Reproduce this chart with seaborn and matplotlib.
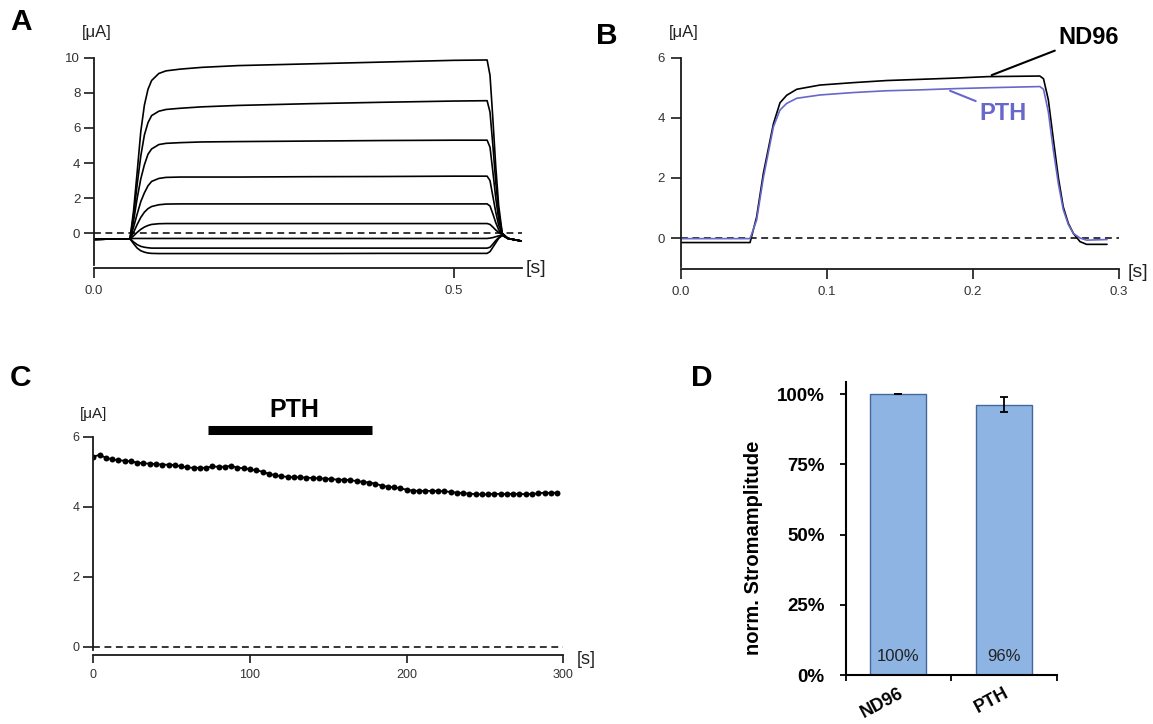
import matplotlib
matplotlib.use("Agg")
import matplotlib.pyplot as plt
import seaborn as sns

# Panel A: current traces of 9 voltage steps (time in s, current in uA)
a_time = [0.0, 0.05, 0.055, 0.06, 0.065, 0.07, 0.075, 0.08, 0.09, 0.1, 0.12, 0.15,
          0.2, 0.3, 0.4, 0.5, 0.546, 0.55, 0.554, 0.558, 0.562, 0.567, 0.575, 0.594]
a_step_1 = [-0.35, -0.32, 1.3, 3.5, 5.8, 7.3, 8.2, 8.7, 9.1, 9.25, 9.35, 9.45,
            9.55, 9.65, 9.75, 9.85, 9.87, 9.0, 6.5, 3.8, 1.6, 0.0, -0.3, -0.45]
a_step_2 = [-0.35, -0.32, 1.0, 2.8, 4.4, 5.6, 6.3, 6.7, 6.95, 7.05, 7.12, 7.2,
            7.28, 7.38, 7.46, 7.53, 7.55, 6.9, 5.0, 2.9, 1.2, 0.0, -0.3, -0.45]
a_step_3 = [-0.35, -0.32, 0.7, 2.0, 3.1, 3.9, 4.5, 4.8, 5.05, 5.12, 5.16, 5.2,
            5.22, 5.25, 5.28, 5.3, 5.3, 4.9, 3.5, 2.0, 0.8, -0.05, -0.3, -0.45]
a_step_4 = [-0.35, -0.32, 0.35, 1.1, 1.8, 2.3, 2.7, 2.95, 3.12, 3.18, 3.2, 3.2,
            3.2, 3.22, 3.23, 3.25, 3.25, 3.0, 2.1, 1.2, 0.45, -0.05, -0.3, -0.45]
a_step_5 = [-0.35, -0.32, 0.05, 0.5, 0.9, 1.2, 1.4, 1.52, 1.62, 1.66, 1.67, 1.67,
            1.67, 1.67, 1.67, 1.67, 1.67, 1.55, 1.1, 0.6, 0.2, -0.08, -0.3, -0.45]
a_step_6 = [-0.35, -0.32, -0.15, 0.05, 0.22, 0.35, 0.44, 0.5, 0.54, 0.55, 0.55, 0.55,
            0.55, 0.55, 0.55, 0.55, 0.55, 0.5, 0.35, 0.18, 0.05, -0.1, -0.3, -0.45]
a_step_7 = [-0.35, -0.32, -0.3, -0.3, -0.3, -0.3, -0.3, -0.3, -0.3, -0.3, -0.3, -0.3,
            -0.3, -0.3, -0.3, -0.3, -0.3, -0.28, -0.25, -0.2, -0.15, -0.12, -0.3, -0.45]
a_step_8 = [-0.35, -0.32, -0.5, -0.65, -0.75, -0.8, -0.83, -0.85, -0.85, -0.85, -0.85, -0.85,
            -0.85, -0.85, -0.85, -0.85, -0.85, -0.8, -0.62, -0.42, -0.25, -0.12, -0.3, -0.45]
a_step_9 = [-0.35, -0.32, -0.6, -0.85, -1.0, -1.08, -1.13, -1.15, -1.16, -1.16, -1.16, -1.16,
            -1.16, -1.16, -1.15, -1.15, -1.15, -1.05, -0.8, -0.55, -0.3, -0.12, -0.3, -0.45]
a_steps = [a_step_1, a_step_2, a_step_3, a_step_4, a_step_5,
           a_step_6, a_step_7, a_step_8, a_step_9]

# Panel B: ND96 vs PTH traces
b_time = [0.0, 0.0475, 0.052, 0.0566, 0.0635, 0.068, 0.0726, 0.0795, 0.0954, 0.118,
          0.141, 0.164, 0.187, 0.21, 0.246, 0.2485, 0.2518, 0.2553, 0.2587, 0.262,
          0.2655, 0.269, 0.2735, 0.278, 0.292]
b_nd96 = [-0.15, -0.15, 0.7, 2.15, 3.8, 4.5, 4.75, 4.95, 5.09, 5.17,
          5.24, 5.28, 5.32, 5.37, 5.39, 5.3, 4.6, 3.26, 2.0, 1.04,
          0.49, 0.15, -0.12, -0.21, -0.21]
b_pth = [-0.02, -0.02, 0.6, 2.0, 3.7, 4.26, 4.48, 4.65, 4.76, 4.84,
         4.9, 4.93, 4.97, 5.0, 5.04, 4.95, 4.2, 2.9, 1.8, 0.95,
         0.45, 0.15, 0.0, -0.07, -0.05]

# Panel C: amplitude over time (s), PTH application window
c_time = [0, 4, 8, 12, 16, 20, 24, 28, 32, 36, 40, 44, 48, 52, 56, 60, 64, 68, 72, 76,
          80, 84, 88, 92, 96, 100, 104, 108, 112, 116, 120, 124, 128, 132, 136, 140,
          144, 148, 152, 156, 160, 164, 168, 172, 176, 180, 184, 188, 192, 196, 200,
          204, 208, 212, 216, 220, 224, 228, 232, 236, 240, 244, 248, 252, 256, 260,
          264, 268, 272, 276, 280, 284, 288, 292, 296]
c_current = [5.43, 5.48, 5.40, 5.35, 5.33, 5.31, 5.30, 5.26, 5.24, 5.23, 5.22, 5.20,
             5.20, 5.19, 5.15, 5.12, 5.11, 5.11, 5.11, 5.15, 5.14, 5.14, 5.17, 5.11,
             5.10, 5.07, 5.04, 5.00, 4.94, 4.90, 4.87, 4.85, 4.84, 4.84, 4.83, 4.82,
             4.81, 4.80, 4.79, 4.77, 4.77, 4.76, 4.73, 4.71, 4.69, 4.66, 4.60, 4.57,
             4.55, 4.53, 4.48, 4.46, 4.45, 4.45, 4.45, 4.45, 4.44, 4.42, 4.40, 4.39,
             4.37, 4.36, 4.35, 4.35, 4.37, 4.36, 4.36, 4.37, 4.36, 4.36, 4.36, 4.38,
             4.40, 4.39, 4.40]
c_pth_window = [73, 178]

# Panel D: normalized current amplitude
d_groups = ["ND96", "PTH"]
d_values = [100.0, 96.3]
d_errors = [0.0, 2.7]

W, H = 1153, 724
PTH_COLOR = "#6767cc"

sns.set_style("ticks")
plt.rcParams["font.family"] = ["Liberation Sans", "DejaVu Sans"]
plt.rcParams["text.color"] = "black"


def px(x, y):
    # pixel position -> figure fraction
    return x / W, 1 - y / H


def axes_at(left, top, right, bottom):
    return fig.add_axes([left / W, 1 - bottom / H, (right - left) / W, (bottom - top) / H])


def style_trace_axes(ax, xlim, ylim, ybounds, xticks, xlabels, yticks,
                     xlen, ylen, size, xpad, ypad):
    ax.set_xlim(*xlim)
    ax.set_ylim(*ylim)
    sns.despine(ax=ax)
    ax.spines["left"].set_bounds(*ybounds)
    for side in ["left", "bottom"]:
        ax.spines[side].set_color("#1a1a1a")
        ax.spines[side].set_linewidth(1.3)
    ax.set_xticks(xticks)
    ax.set_xticklabels(xlabels)
    ax.set_yticks(yticks)
    ax.set_yticklabels([str(v) for v in yticks])
    ax.tick_params(axis="x", length=xlen, width=1.2, color="#1a1a1a",
                   labelcolor="#333333", labelsize=size, pad=xpad)
    ax.tick_params(axis="y", length=ylen, width=1.2, color="#1a1a1a",
                   labelcolor="#333333", labelsize=size, pad=ypad)
    ax.set_xlabel("")
    ax.set_ylabel("")
    ax.set_facecolor("none")
    ax.axhline(0, color="black", lw=1.1, linestyle=(0, (4.5, 3)), zorder=1)


fig = plt.figure(figsize=(W / 100, H / 100), dpi=100)

# ---- Panel A ----
ax_a = axes_at(94, 57.7, 94 + 0.594 * 720, 268.3)
for step in a_steps:
    sns.lineplot(x=a_time, y=step, color="black", lw=1.2, ax=ax_a, estimator=None)
style_trace_axes(ax_a, (0, 0.594), (-2.0, 10), (-1.8, 10), [0, 0.5], ["0.0", "0.5"],
                 [0, 2, 4, 6, 8, 10], 7, 7.5, 9.5, 5, 2.4)

# ---- Panel B ----
ax_b = axes_at(680.7, 57.7, 1118.7, 269.3)
sns.lineplot(x=b_time, y=b_nd96, color="black", lw=1.2, ax=ax_b, estimator=None)
sns.lineplot(x=b_time, y=b_pth, color=PTH_COLOR, lw=1.2, ax=ax_b, estimator=None)
style_trace_axes(ax_b, (0, 0.3), (-1.04, 6), (-0.95, 6), [0, 0.1, 0.2, 0.3],
                 ["0.0", "0.1", "0.2", "0.3"], [0, 2, 4, 6], 7, 7.5, 9.5, 5, 4)
ax_b.annotate("ND96", xy=(0.213, 5.42), xytext=(0.2585, 6.66), ha="left", va="center",
              fontsize=17, fontweight="bold", color="black",
              arrowprops=dict(arrowstyle="-", color="black", lw=1.5,
                              relpos=(0, 0), shrinkA=0, shrinkB=0))
ax_b.annotate("PTH", xy=(0.1845, 4.9), xytext=(0.2043, 4.13), ha="left", va="center",
              fontsize=17, fontweight="bold", color=PTH_COLOR,
              arrowprops=dict(arrowstyle="-", color=PTH_COLOR, lw=1.5,
                              relpos=(0, 1), shrinkA=0, shrinkB=0))

# ---- Panel C ----
ax_c = axes_at(93.3, 436.7, 563.3, 655.3)
sns.lineplot(x=c_time, y=c_current, color="black", lw=1.3, marker="o", markersize=4.3,
             markeredgewidth=0, ax=ax_c, estimator=None)
style_trace_axes(ax_c, (0, 300), (-0.25, 6), (-0.11, 6), [0, 100, 200, 300],
                 ["0", "100", "200", "300"], [0, 2, 4, 6], 6, 7, 9, 4, 3)
ax_c.plot(c_pth_window, [6.18, 6.18], color="black", lw=6.5, solid_capstyle="butt",
          clip_on=False)
ax_c.text(sum(c_pth_window) / 2 + 3, 6.77, "PTH", ha="center", va="center",
          fontsize=18, fontweight="bold", color="black")

# ---- Panel D ----
ax_d = axes_at(845.7, 381.7, 1056.7, 675)
sns.barplot(x=d_groups, y=d_values, width=0.53, color="#8db4e2", saturation=1,
            edgecolor="#44689c", linewidth=1, errorbar=None, ax=ax_d)
ax_d.errorbar(range(len(d_groups)), d_values, yerr=d_errors, fmt="none",
              ecolor="black", elinewidth=1.3, capsize=3, capthick=1.3)
for i, v in enumerate(d_values):
    ax_d.text(i, 6.5, f"{v:.0f}%", ha="center", va="center", fontsize=12, color="#222222")
ax_d.set_xlim(-0.5, 1.5)
ax_d.set_ylim(0, 104.5)
sns.despine(ax=ax_d)
for side in ["left", "bottom"]:
    ax_d.spines[side].set_color("black")
    ax_d.spines[side].set_linewidth(1.5)
ax_d.set_xticks([-0.5, 0.5, 1.5])
ax_d.set_xticklabels([])
ax_d.set_xticks(range(len(d_groups)), minor=True)
ax_d.set_xticklabels(d_groups, minor=True, rotation=28, ha="right", va="top",
                     rotation_mode="anchor", fontweight="bold", fontsize=13)
ax_d.tick_params(axis="x", which="major", length=4, width=1.3, color="black")
ax_d.tick_params(axis="x", which="minor", length=0, pad=7, labelcolor="black")
ax_d.set_yticks([0, 25, 50, 75, 100])
ax_d.set_yticklabels([f"{v}%" for v in [0, 25, 50, 75, 100]], fontweight="bold")
ax_d.tick_params(axis="y", length=4, width=1.3, color="black", labelsize=13.5, pad=11,
                 labelcolor="black")
ax_d.set_xlabel("")
ax_d.set_ylabel("norm. Stromamplitude", fontsize=14.5, fontweight="bold", color="black")
ax_d.yaxis.set_label_coords(-0.39, 0.435)
ax_d.set_facecolor("none")

# ---- units and panel letters ----
for (x, y), size in [((96.3, 32.5), 12), ((683.3, 32), 12), ((93.3, 414), 11)]:
    fig.text(*px(x, y), "[\u03bcA]", ha="center", va="center", fontsize=size, color="#222222")
for (x, y), size in [((535.8, 268.3), 14), ((1138, 272.5), 14), ((586, 660), 13)]:
    fig.text(*px(x, y), "[s]", ha="center", va="center", fontsize=size, color="#222222")
for (x, y), letter in [((21, 22.5), "A"), ((606.7, 36), "B"), ((20.3, 378.5), "C"),
                       ((701.7, 378), "D")]:
    fig.text(*px(x, y), letter, ha="center", va="center", fontsize=21.5,
             fontweight="bold", color="black")

fig.savefig("out.png", dpi=100)
plt.close(fig)
